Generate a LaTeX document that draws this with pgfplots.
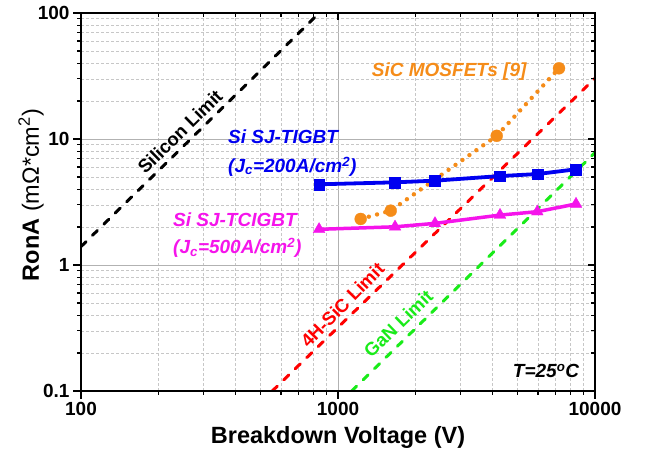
\documentclass[border=0pt]{standalone}
\usepackage{pgfplots}
\pgfplotsset{compat=1.18}
\usepackage{fontspec}
\setmainfont{Liberation Sans}
\definecolor{cblue}{RGB}{0,0,240}
\definecolor{cmag}{RGB}{245,20,235}
\definecolor{corange}{RGB}{245,140,25}
\definecolor{cred}{RGB}{255,0,0}
\definecolor{cgreen}{RGB}{25,235,25}
\tikzset{
  limline/.style={line width=3pt, line cap=round, dash pattern=on 7pt off 9pt},
  annot/.style={font=\fontsize{19}{22}\selectfont\bfseries\itshape, inner sep=0pt},
  limlab/.style={font=\fontsize{18.5}{20}\selectfont\bfseries, inner sep=0pt},
}
\begin{document}
\begin{tikzpicture}
\begin{axis}[
  xmode=log, ymode=log, scale only axis, width=514pt, height=378pt,
  xmin=100, xmax=10000, ymin=0.1, ymax=100,
  xtick={100,1000,10000}, ytick={0.1,1,10,100},
  minor xtick={200,300,400,500,600,700,800,900,2000,3000,4000,5000,6000,7000,8000,9000},
  minor ytick={0.2,0.3,0.4,0.5,0.6,0.7,0.8,0.9,2,3,4,5,6,7,8,9,20,30,40,50,60,70,80,90},
  axis line style={line width=1.5pt, black},
  tick style={black, line width=1.2pt},
  tick align=outside, xtick pos=left, ytick pos=left,
  major tick length=8pt, minor tick length=4pt,
  xticklabels={100,1000,10000}, yticklabels={0.1,1,10,100},
  ticklabel style={font=\fontsize{19}{19}\selectfont\bfseries},
  grid=both,
  major grid style={color=black!30, line width=0.8pt},
  minor grid style={color=black!22, line width=0.7pt, dash pattern=on 3pt off 2pt},
  xlabel={Breakdown Voltage (V)},
  ylabel={\textbf{RonA} (mΩ*cm\textsuperscript{2})},
  xlabel style={font=\fontsize{23.5}{24}\selectfont\bfseries, at={(axis description cs:0.5,-0.122)}, anchor=center},
  ylabel style={font=\fontsize{23.5}{24}\selectfont, at={(axis description cs:-0.097,0.5185)}, anchor=center},
]
% limits
\addplot[limline, black, no marks] coordinates {(100,1.40) (845,100)};
\addplot[limline, cred, no marks] coordinates {(555,0.1) (10000,30.3)};
\addplot[limline, cgreen, no marks] coordinates {(1130,0.1) (10000,7.8)};
% SiC MOSFETs
\addplot[corange, line width=4.4pt, line cap=round, dash pattern=on 0pt off 8.5pt,
  mark=*, mark size=6pt, mark options={solid, line width=0.3pt, fill=corange}]
  coordinates {(1225,2.32) (1604,2.70) (4145,10.6) (7244,36.4)};
% Si SJ-TIGBT
\addplot[cblue, line width=3.8pt, mark=square*, mark size=5.4pt, mark options={solid, line width=0.3pt, fill=cblue}]
  coordinates {(844,4.37) (1667,4.53) (2384,4.67) (4270,5.08) (5965,5.27) (8435,5.75)};
% Si SJ-TCIGBT
\addplot[cmag, line width=3.5pt, mark=triangle*, mark size=6.8pt, mark options={solid, line width=0.3pt, fill=cmag}]
  coordinates {(844,1.92) (1667,2.01) (2384,2.14) (4270,2.49) (5965,2.65) (8435,3.05)};
% labels
\node[limlab, rotate=44.5] at (rel axis cs:0.1926,0.686) {Silicon Limit};
\node[limlab, rotate=45.5, text=cred] at (rel axis cs:0.5084,0.2275) {4H-SiC Limit};
\node[limlab, rotate=44, text=cgreen] at (rel axis cs:0.6173,0.1791) {GaN Limit};
\node[annot, text=cblue, anchor=west] at (rel axis cs:0.286,0.6733) {Si SJ-TIGBT};
\node[annot, text=cblue, anchor=west] at (rel axis cs:0.286,0.5939) {(J\textsubscript{c}=200A/cm\textsuperscript{2})};
\node[annot, text=cmag, anchor=west] at (rel axis cs:0.179,0.4524) {Si SJ-TCIGBT};
\node[annot, text=cmag, anchor=west] at (rel axis cs:0.179,0.3783) {(J\textsubscript{c}=500A/cm\textsuperscript{2})};
\node[annot, text=corange, anchor=west] at (rel axis cs:0.5656,0.8447) {SiC MOSFETs [9]};
\node[annot, text=black] at (rel axis cs:0.9047,0.0529) {T=25\textsuperscript{o}C};
\end{axis}
\begin{axis}[
  xmode=log, ymode=log, scale only axis, width=514pt, height=378pt,
  xmin=100, xmax=10000, ymin=0.1, ymax=100,
  xtick={100,1000,10000}, ytick={0.1,1,10,100},
  minor xtick={200,300,400,500,600,700,800,900,2000,3000,4000,5000,6000,7000,8000,9000},
  minor ytick={0.2,0.3,0.4,0.5,0.6,0.7,0.8,0.9,2,3,4,5,6,7,8,9,20,30,40,50,60,70,80,90},
  axis line style={line width=1.5pt, black},
  tick style={black, line width=1.2pt},
  tick align=inside, xtick pos=right, ytick pos=right,
  major tick length=7pt, minor tick length=4pt,
  xticklabels={}, yticklabels={},
]
\end{axis}
\path ([shift={(-81pt,-64pt)}]current axis.south west) rectangle ([shift={(51pt,13pt)}]current axis.north east);
\end{tikzpicture}
\end{document}
